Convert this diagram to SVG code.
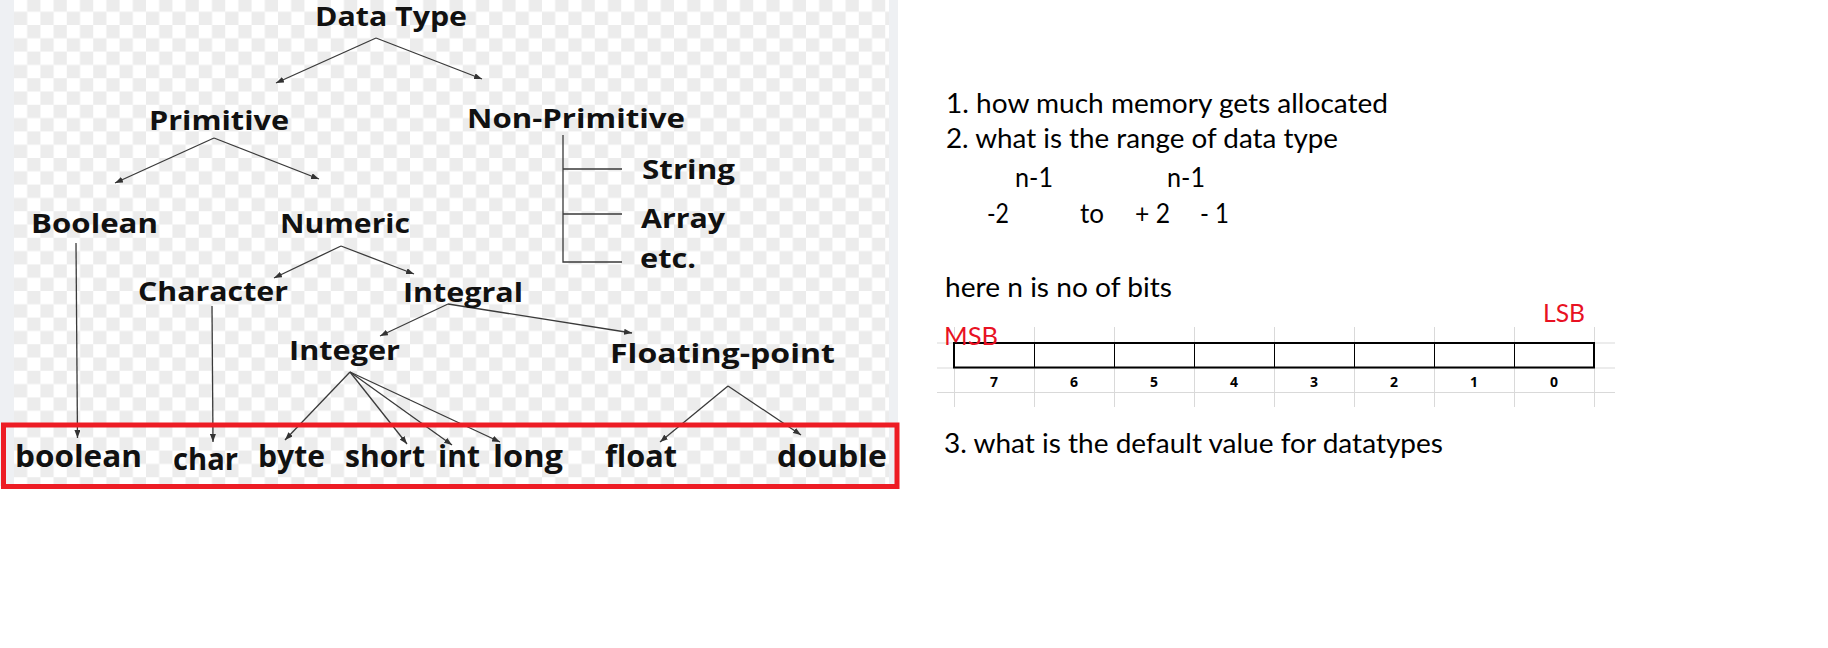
<svg xmlns="http://www.w3.org/2000/svg" width="1828" height="648" viewBox="0 0 1828 648">
<defs>
<pattern id="chk" x="14" y="-1.6" width="26.4" height="26.6" patternUnits="userSpaceOnUse">
<rect width="26.4" height="26.6" fill="#ffffff"/>
<rect x="13.2" y="0" width="13.2" height="13.3" fill="#ececec"/>
<rect x="0" y="13.3" width="13.2" height="13.3" fill="#ececec"/>
</pattern>
<marker id="arr" viewBox="0 0 8 6" refX="8" refY="3" markerWidth="8" markerHeight="6" markerUnits="userSpaceOnUse" orient="auto">
<path d="M0,0 L8,3 L0,6 z" fill="#333"/>
</marker>
<style>
.n{font-family:"Open Sans","Noto Sans",sans-serif;font-weight:700;font-size:27px;fill:#111}
.b{font-size:30px}
.c{fill:none;stroke:#3a3a3a;stroke-width:1.3}
.a{marker-end:url(#arr)}
.t{font-family:Lato,"Open Sans",sans-serif;font-size:26px;fill:#000}
.r{font-family:Lato,"Open Sans",sans-serif;font-size:25px;fill:#e81123}
.d{font-family:"Open Sans",sans-serif;font-weight:700;font-size:14px;fill:#000;text-anchor:middle}
.g{stroke:#d9d9d9;stroke-width:1;fill:none}
</style>
</defs>
<rect width="1828" height="648" fill="#fff"/>
<rect x="0" y="0" width="14" height="486" fill="#eef0f3"/>
<rect x="14" y="0" width="875" height="486" fill="url(#chk)"/>
<rect x="889" y="0" width="9" height="486" fill="#eef0f3"/>

<g id="connectors">
<path class="c a" d="M376,38 L276,83"/>
<path class="c a" d="M376,38 L482,79"/>
<path class="c a" d="M214,138 L115,183"/>
<path class="c a" d="M214,138 L319,179"/>
<path class="c" d="M563,135 V262 H622 M563,169 H622 M563,214 H622"/>
<path class="c a" d="M341,246 L274,278"/>
<path class="c a" d="M341,246 L414,274"/>
<path class="c a" d="M76,243 L77.5,438"/>
<path class="c a" d="M212,306 L213,442"/>
<path class="c a" d="M448,304 L380,336"/>
<path class="c a" d="M448,304 L632,333"/>
<path class="c a" d="M350,372 L285,440"/>
<path class="c a" d="M350,372 L407,444"/>
<path class="c a" d="M350,372 L452,445"/>
<path class="c a" d="M350,372 L500,442"/>
<path class="c a" d="M728,386 L660,442"/>
<path class="c a" d="M728,386 L801,435"/>
</g>

<g id="datatype"><text class="n" x="315" y="26" textLength="152" lengthAdjust="spacingAndGlyphs">Data Type</text></g>
<g id="primitive"><text class="n" x="149" y="130" textLength="140" lengthAdjust="spacingAndGlyphs">Primitive</text></g>
<g id="nonprimitive"><text class="n" x="467" y="128" textLength="218" lengthAdjust="spacingAndGlyphs">Non-Primitive</text></g>
<g id="string"><text class="n" x="642" y="179" textLength="93" lengthAdjust="spacingAndGlyphs">String</text></g>
<g id="array"><text class="n" x="641" y="228" textLength="84" lengthAdjust="spacingAndGlyphs">Array</text></g>
<g id="etc"><text class="n" x="640" y="268" textLength="56" lengthAdjust="spacingAndGlyphs">etc.</text></g>
<g id="booleanCat"><text class="n" x="31" y="233" textLength="127" lengthAdjust="spacingAndGlyphs">Boolean</text></g>
<g id="numeric"><text class="n" x="280" y="233" textLength="130" lengthAdjust="spacingAndGlyphs">Numeric</text></g>
<g id="character"><text class="n" x="138" y="301" textLength="150" lengthAdjust="spacingAndGlyphs">Character</text></g>
<g id="integral"><text class="n" x="403" y="302" textLength="120" lengthAdjust="spacingAndGlyphs">Integral</text></g>
<g id="integer"><text class="n" x="289" y="360" textLength="111" lengthAdjust="spacingAndGlyphs">Integer</text></g>
<g id="floating"><text class="n" x="610" y="363" textLength="225" lengthAdjust="spacingAndGlyphs">Floating-point</text></g>

<g id="primitives-box"><rect x="3.5" y="425" width="893.5" height="61.5" fill="none" stroke="#ed1c24" stroke-width="5"/></g>
<g id="boolean"><text class="n b" x="15" y="467" textLength="127" lengthAdjust="spacingAndGlyphs">boolean</text></g>
<g id="char"><text class="n b" x="173" y="470" textLength="65" lengthAdjust="spacingAndGlyphs">char</text></g>
<g id="byte"><text class="n b" x="258" y="467" textLength="67" lengthAdjust="spacingAndGlyphs">byte</text></g>
<g id="short"><text class="n b" x="345" y="467" textLength="80" lengthAdjust="spacingAndGlyphs">short</text></g>
<g id="int"><text class="n b" x="438" y="467" textLength="42" lengthAdjust="spacingAndGlyphs">int</text></g>
<g id="long"><text class="n b" x="493" y="467" textLength="70" lengthAdjust="spacingAndGlyphs">long</text></g>
<g id="float"><text class="n b" x="605" y="467" textLength="72" lengthAdjust="spacingAndGlyphs">float</text></g>
<g id="double"><text class="n b" x="777" y="467" textLength="110" lengthAdjust="spacingAndGlyphs">double</text></g>

<g id="notes">
<text class="t" x="946" y="113" textLength="442" lengthAdjust="spacingAndGlyphs">1. how much memory gets allocated</text>
<text class="t" x="946" y="148" textLength="392" lengthAdjust="spacingAndGlyphs">2. what is the range of data type</text>
<text class="t" x="1015" y="187" textLength="38" lengthAdjust="spacingAndGlyphs">n-1</text>
<text class="t" x="1167" y="187" textLength="38" lengthAdjust="spacingAndGlyphs">n-1</text>
<text class="t" x="987" y="223" textLength="22" lengthAdjust="spacingAndGlyphs">-2</text>
<text class="t" x="1080" y="223" textLength="24" lengthAdjust="spacingAndGlyphs">to</text>
<text class="t" x="1135" y="223" textLength="35" lengthAdjust="spacingAndGlyphs">+ 2</text>
<text class="t" x="1200" y="223" textLength="29" lengthAdjust="spacingAndGlyphs">- 1</text>
<text class="t" x="945" y="297" textLength="227" lengthAdjust="spacingAndGlyphs">here n is no of bits</text>
<text class="t" x="944" y="453" textLength="499" lengthAdjust="spacingAndGlyphs">3. what is the default value for datatypes</text>
</g>

<g id="bits">
<path class="g" d="M937,343 H1615 M937,368 H1615 M937,392.5 H1615 M954.5,327 V407 M1034.5,327 V407 M1114.5,327 V407 M1194.5,327 V407 M1274.5,327 V407 M1354.5,327 V407 M1434.5,327 V407 M1514.5,327 V407 M1594.5,327 V407"/>
<rect x="954" y="343" width="640" height="24.5" fill="#fff" stroke="#000" stroke-width="2"/>
<path d="M1034.5,344 V367 M1114.5,344 V367 M1194.5,344 V367 M1274.5,344 V367 M1354.5,344 V367 M1434.5,344 V367 M1514.5,344 V367" stroke="#000" stroke-width="1" fill="none"/>
<text class="d" x="994" y="386.5">7</text>
<text class="d" x="1074" y="386.5">6</text>
<text class="d" x="1154" y="386.5">5</text>
<text class="d" x="1234" y="386.5">4</text>
<text class="d" x="1314" y="386.5">3</text>
<text class="d" x="1394" y="386.5">2</text>
<text class="d" x="1474" y="386.5">1</text>
<text class="d" x="1554" y="386.5">0</text>
<text class="r" x="1543" y="322" textLength="42" lengthAdjust="spacingAndGlyphs">LSB</text>
<text class="r" x="944" y="345" textLength="54" lengthAdjust="spacingAndGlyphs">MSB</text>
</g>
</svg>
